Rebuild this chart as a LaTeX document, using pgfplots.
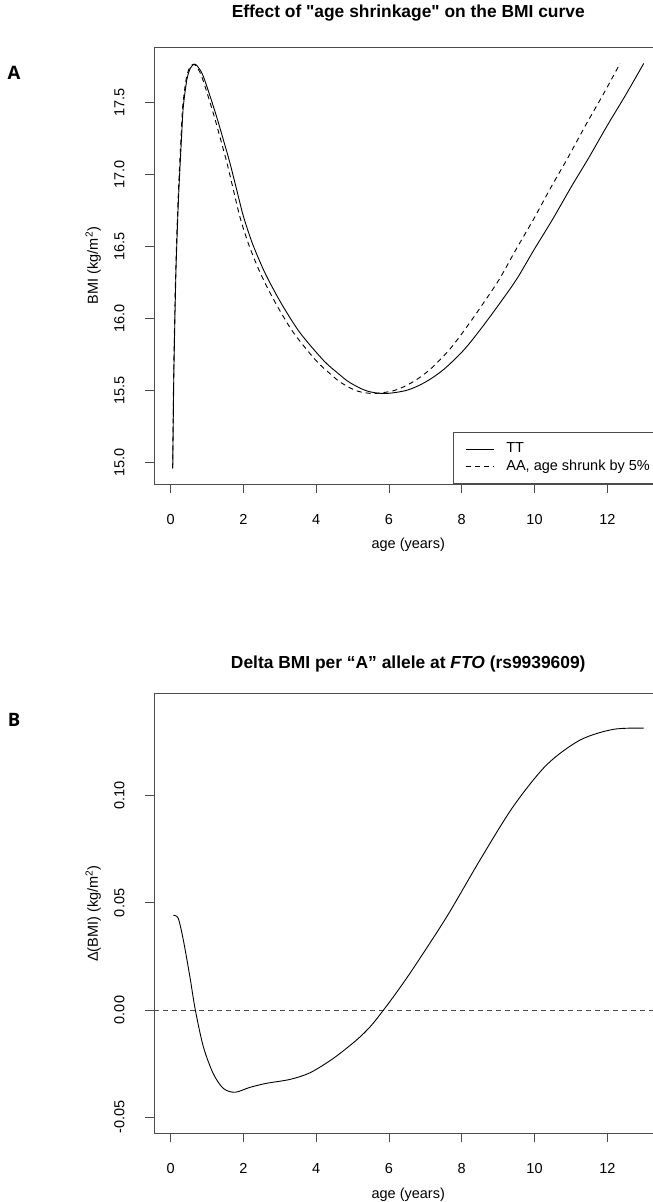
\documentclass[border=0pt]{standalone}
\usepackage{fontspec}
\setmainfont{Liberation Sans}[Ligatures=TeXOff]
\newfontfamily\panelfont{Open Sans}
\usepackage{pgfplots}
\pgfplotsset{compat=1.18}

\pgfplotstableread{
t bmi
0.06 14.96
0.09 15.62
0.146 16.31
0.2 16.72
0.237 16.94
0.30 17.25
0.35 17.47
0.45 17.66
0.55 17.74
0.67 17.765
0.8 17.73
0.9 17.68
1.05 17.57
1.265 17.40
1.45 17.24
1.63 17.08
1.8 16.91
2.0 16.71
2.25 16.52
2.55 16.34
2.8 16.215
3.1 16.08
3.56 15.90
4.2 15.71
4.6 15.62
4.93 15.555
5.4 15.497
5.9 15.48
6.5 15.503
7.0 15.559
7.5 15.646
8.05 15.78
8.5 15.92
8.97 16.08
9.5 16.27
9.98 16.475
10.5 16.69
11 16.91
11.5 17.12
12 17.34
12.5 17.55
13 17.77
}\tt

\pgfplotstableread{
t bmi
0.057 14.96
0.0855 15.62
0.1387 16.31
0.19 16.72
0.2252 16.94
0.285 17.25
0.3325 17.47
0.4275 17.66
0.5225 17.74
0.6365 17.765
0.76 17.73
0.855 17.68
0.9975 17.57
1.2018 17.40
1.3775 17.24
1.5485 17.08
1.71 16.91
1.9 16.71
2.1375 16.52
2.4225 16.34
2.66 16.215
2.945 16.08
3.382 15.90
3.99 15.71
4.37 15.62
4.6835 15.555
5.13 15.497
5.605 15.48
6.175 15.503
6.65 15.559
7.125 15.646
7.6475 15.78
8.075 15.92
8.5215 16.08
9.025 16.27
9.481 16.475
9.975 16.69
10.45 16.91
10.925 17.12
11.4 17.34
11.875 17.55
12.35 17.77
}\aa

\pgfplotstableread{
t d
0.075 0.0442
0.21 0.0428
0.35 0.0327
0.53 0.0156
0.68 0.0000
0.90 -0.0171
1.17 -0.0296
1.45 -0.0366
1.77 -0.0384
2.18 -0.0361
2.64 -0.0342
3.28 -0.0324
3.83 -0.0293
4.47 -0.0226
5.11 -0.0140
5.5 -0.0075
5.85 0.0000
6.2 0.0080
6.67 0.0195
7.59 0.0436
8.50 0.0700
9.41 0.0949
10.33 0.1144
11.25 0.1260
12.16 0.1310
13.0 0.1316
}\delta

\pgfplotsset{
  rstyle/.style={
    scale only axis, width=508.1pt,
    xmin=-0.45, xmax=13.51,
    axis line style={line width=0.9pt, draw=black!70},
    every tick/.style={line width=0.9pt, draw=black!70},
    tick align=outside, major tick length=9pt,
    xtick pos=left, ytick pos=left,
    xtick={0,2,4,6,8,10,12},
    xticklabels={0,2,4,6,8,10,12},
    xticklabel style={anchor=center, yshift=-26pt, inner sep=0pt, text height=10.4pt, text depth=0pt},
    yticklabel style={xshift=-26pt, rotate=90, anchor=center, inner sep=0pt, text height=10.4pt, text depth=0pt},
    every axis y label/.style={at={(axis description cs:0,0.5)}, xshift=-61pt, rotate=90, anchor=center},
    every axis x label/.style={at={(axis description cs:0.5,0)}, yshift=-61pt, anchor=center},
    title style={at={(axis description cs:0.5,1)}, anchor=center, font=\bfseries\fontsize{17.4}{20}\selectfont},
    xlabel={age (years)},
    clip=false,
  }
}

\begin{document}
\fontsize{14.5}{17.4}\selectfont
\begin{tikzpicture}[x=1pt,y=1pt]
\useasboundingbox (0,0) rectangle (653,-1202);
\fill[white] (0,0) rectangle (653,-1202);
\clip (0,0) rectangle (653,-1202);

\node[font=\panelfont\bfseries\fontsize{18.5}{20}\selectfont] at (14,-73) {A};
\node[font=\panelfont\bfseries\fontsize{18.5}{20}\selectfont] at (14,-720) {B};

% Panel A
\begin{axis}[rstyle,
  at={(154.2pt,-484pt)}, anchor=south west,
  height=437pt,
  ymin=14.852, ymax=17.884,
  ytick={15,15.5,16,16.5,17,17.5},
  yticklabels={15.0,15.5,16.0,16.5,17.0,17.5},
  ylabel={BMI (kg/m\textsuperscript{2})},
  title={Effect of {\char34}age shrinkage{\char34} on the BMI curve},
  title style={yshift=28pt},
  legend style={at={(axis description cs:1,0)}, anchor=south east,
    draw=black!70, line width=0.9pt, inner xsep=12pt, inner ysep=10pt,
    row sep=3.9pt,
    nodes={inner sep=0pt, text height=10.5pt, text depth=3.2pt},
    /tikz/every odd column/.style={column sep=12pt}},
  legend cell align=left,
  legend image code/.code={\draw[#1] (0pt,0pt) -- (28pt,0pt);},
]
\addplot[black, line width=0.9pt, smooth, tension=0.5] table[x=t, y=bmi] {\tt};
\addlegendentry{TT}
\addplot[black, line width=0.9pt, dash pattern=on 5pt off 4pt, smooth, tension=0.5] table[x=t, y=bmi] {\aa};
\addlegendentry{AA, age shrunk by 5\%}
\end{axis}

% Panel B
\begin{axis}[rstyle,
  at={(154.2pt,-1133.4pt)}, anchor=south west,
  height=439.6pt,
  ymin=-0.0576, ymax=0.1476,
  ytick={-0.05,0,0.05,0.1},
  yticklabels={-0.05,0.00,0.05,0.10},
  ylabel={Δ(BMI) (kg/m\textsuperscript{2})},
  title={Delta BMI per “A” allele at \textit{FTO} (rs9939609)},
  title style={yshift=24pt},
]
\addplot[black!70, line width=0.9pt, dash pattern=on 5pt off 4pt] coordinates {(-0.45,0) (13.51,0)};
\addplot[black, line width=0.9pt, smooth, tension=0.5] table[x=t, y=d] {\delta};
\end{axis}
\end{tikzpicture}
\end{document}
